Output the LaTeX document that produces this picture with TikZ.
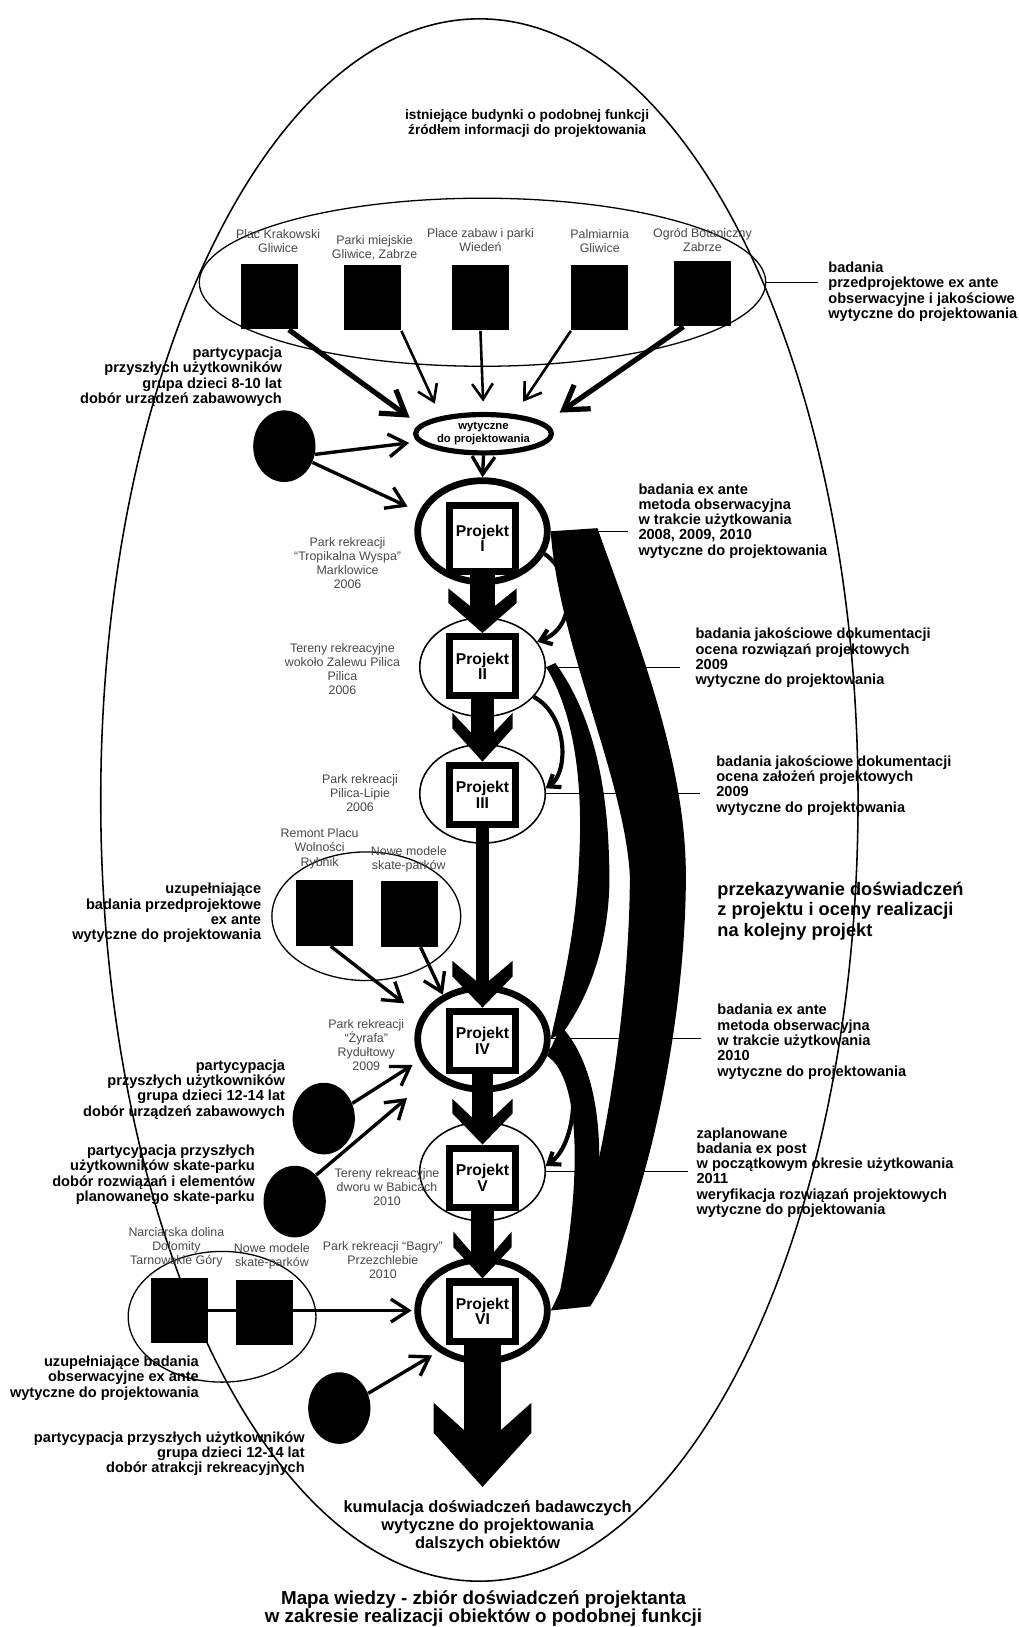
\documentclass[tikz,border=0pt]{standalone}
\usepackage{fontspec}
\setmainfont{Liberation Sans}
\usetikzlibrary{positioning, arrows.meta, shapes.geometric, calc}

\tikzset{
	site/.style={font=\fontsize{6.8}{7.7}\selectfont, text=black!72, align=center, inner sep=0pt},
	note/.style={font=\fontsize{8}{8.4}\selectfont\bfseries, inner sep=0pt},
	notebig/.style={font=\fontsize{10}{11.4}\selectfont\bfseries, inner sep=0pt},
	objbox/.style={rectangle, fill=black, minimum width=1.1cm, minimum height=1.26cm, inner sep=0pt},
	pupil/.style={ellipse, fill=black, minimum width=1.2cm, minimum height=1.38cm, inner sep=0pt},
	grpell/.style={ellipse, draw, line width=0.25mm, inner sep=0pt},
	projbox/.style={rectangle, draw, line width=1.4mm, fill=white, minimum width=1.26cm, minimum height=1.14cm,
		align=center, inner sep=0pt, font=\fontsize{8.6}{8.4}\selectfont\bfseries},
	ringthick/.style={ellipse, draw, line width=1.3mm, minimum width=2.5cm, minimum height=1.95cm, inner sep=0pt},
	ringthin/.style={ellipse, draw, line width=0.3mm, minimum width=2.42cm, minimum height=1.9cm, inner sep=0pt},
	barb/.style={-{Straight Barb[length=3.4mm, width=4.4mm]}, line width=0.65mm},
	thinbarb/.style={-{Straight Barb[length=3mm, width=4mm]}, line width=0.5mm},
	fatbarb/.style={-{Straight Barb[length=4.4mm, width=5.6mm]}, line width=1mm},
	arcarr/.style={-{Straight Barb[length=2mm, width=3mm]}, line width=0.8mm},
	leader/.style={line width=0.2mm}
}

% wide arrow between projects: from, tip, half shaft, half head, head length, side, notch
\newcommand\projarrow[7]{%
	\fill ($(#1.south)+(-#3,0)$) rectangle ($(#2)+(#3,-#5+#7+1)$);
	\fill ($(#2)+(-#4,-#5)$) -- ($(#2)+(-#3,-#5+#7)$) -- ($(#2)+(#3,-#5+#7)$) -- ($(#2)+(#4,-#5)$)
		-- ($(#2)+(#4,-#5+#6)$) -- (#2) -- ($(#2)+(-#4,-#5+#6)$) -- cycle;}

\begin{document}
\begin{tikzpicture}[x=0.02cm, y=-0.02cm]
	\useasboundingbox (0,0) rectangle (982,1568);

	% the whole map
	\node[ellipse, draw, line width=0.3mm, minimum width=14.6cm, minimum height=30.12cm, inner sep=0pt] (mapa) at (462,771) {};
	\node[note, align=center, font=\fontsize{7.5}{8}\selectfont\bfseries] (zrodlo) at (508,119)
		{istniejące budynki o podobnej funkcji\\źródłem informacji do projektowania};

	% existing buildings
	\node[grpell, minimum width=10.92cm, minimum height=3.24cm] (grpA) at (465,272) {};
	\node[objbox] (sqA1) at (260,286) {};
	\node[objbox] (sqA2) at (359,287) {};
	\node[objbox] (sqA3) at (463,287) {};
	\node[objbox] (sqA4) at (578,287) {};
	\node[objbox] (sqA5) at (677,283) {};
	\node[site] (labA1) at (268,232) {Plac Krakowski\\Gliwice};
	\node[site] (labA2) at (361,239) {Parki miejskie\\Gliwice, Zabrze};
	\node[site] (labA3) at (463,231) {Place zabaw i parki\\Wiedeń};
	\node[site] (labA4) at (578,232) {Palmiarnia\\Gliwice};
	\node[site] (labA5) at (677,231) {Ogród Botaniczny\\Zabrze};
	\node[note, align=left, anchor=west] (badA) at (798,281)
		{badania\\przedprojektowe ex ante\\obserwacyjne i jakościowe\\wytyczne do projektowania};

	\node[ellipse, draw, line width=1mm, minimum width=2.62cm, minimum height=0.74cm, inner sep=0pt,
		align=center, font=\fontsize{6.2}{7.1}\selectfont\bfseries] (wyt) at (466,418) {wytyczne\\do projektowania};

	\node[pupil] (circ1) at (274,430) {};
	\node[note, align=right, anchor=east] (partA) at (272,363)
		{partycypacja\\przyszłych użytkowników\\grupa dzieci 8-10 lat\\dobór urządzeń zabawowych};

	% projects
	\node[ringthick] (ring1) at (465,512) {};
	\node[ringthin] (ring2) at (465,643) {};
	\node[ringthin] (ring3) at (465,765) {};
	\node[ringthick] (ring4) at (465,1001) {};
	\node[ringthin] (ring5) at (465,1129) {};
	\node[ringthick] (ring6) at (465,1263) {};
	\node[projbox, minimum height=1.26cm] (box1) at (465,519) {Projekt\\I};
	\node[projbox] (box2) at (465,642) {Projekt\\II};
	\node[projbox] (box3) at (465,766) {Projekt\\III};
	\node[projbox] (box4) at (465,1003) {Projekt\\IV};
	\node[projbox] (box5) at (465,1135) {Projekt\\V};
	\node[projbox] (box6) at (465,1264) {Projekt\\VI};

	\node[site] (labP1) at (335,543) {Park rekreacji\\“Tropikalna Wyspa”\\Marklowice\\2006};
	\node[site] (labP2) at (330,645) {Tereny rekreacyjne\\wokoło Zalewu Pilica\\Pilica\\2006};
	\node[site] (labP3) at (347,764) {Park rekreacji\\Pilica-Lipie\\2006};
	\node[site] (labP4) at (353,1007) {Park rekreacji\\“Żyrafa”\\Rydułtowy\\2009};
	\node[site] (labP5) at (373,1144) {Tereny rekreacyjne\\dworu w Babicach\\2010};
	\node[site] (labP6) at (369,1214) {Park rekreacji “Bagry”\\Przezchlebie\\2010};

	\node[note, align=left, anchor=west] (badI) at (615,502)
		{badania ex ante\\metoda obserwacyjna\\w trakcie użytkowania\\2008, 2009, 2010\\wytyczne do projektowania};
	\node[note, align=left, anchor=west] (badII) at (670,634)
		{badania jakościowe dokumentacji\\ocena rozwiązań projektowych\\2009\\wytyczne do projektowania};
	\node[note, align=left, anchor=west] (badIII) at (690,757)
		{badania jakościowe dokumentacji\\ocena założeń projektowych\\2009\\wytyczne do projektowania};
	\node[notebig, align=left, anchor=west] (przek) at (691,878)
		{przekazywanie doświadczeń\\z projektu i oceny realizacji\\na kolejny projekt};
	\node[note, align=left, anchor=west] (badIV) at (691,1004)
		{badania ex ante\\metoda obserwacyjna\\w trakcie użytkowania\\2010\\wytyczne do projektowania};
	\node[note, align=left, anchor=west] (badV) at (671,1130)
		{zaplanowane\\badania ex post\\w początkowym okresie użytkowania\\2011\\weryfikacja rozwiązań projektowych\\wytyczne do projektowania};

	% skate parks before project IV
	\node[grpell, minimum width=3.64cm, minimum height=2.48cm] (grpB) at (353,883) {};
	\node[objbox] (sqB1) at (313,880) {};
	\node[objbox] (sqB2) at (395,881) {};
	\node[site] (labB1) at (308,818) {Remont Placu\\Wolności\\Rybnik};
	\node[site] (labB2) at (394,828) {Nowe modele\\skate-parków};
	\node[note, align=right, anchor=east] (uzupB) at (252,880)
		{uzupełniające\\badania przedprojektowe\\ex ante\\wytyczne do projektowania};

	\node[pupil] (circ2) at (312,1078) {};
	\node[pupil] (circ3) at (284,1158) {};
	\node[note, align=right, anchor=east] (partB) at (275,1050)
		{partycypacja\\przyszłych użytkowników\\grupa dzieci 12-14 lat\\dobór urządzeń zabawowych};
	\node[note, align=right, anchor=east] (partS) at (246,1132)
		{partycypacja przyszłych\\użytkowników skate-parku\\dobór rozwiązań i elementów\\planowanego skate-parku};

	% ski slope before project VI
	\node[grpell, minimum width=3.62cm, minimum height=2.52cm] (grpC) at (214,1269) {};
	\node[objbox] (sqC1) at (173,1263) {};
	\node[objbox] (sqC2) at (255,1265) {};
	\node[site] (labC1) at (170,1202) {Narciarska dolina\\Dolomity\\Tarnowskie Góry};
	\node[site] (labC2) at (262,1211) {Nowe modele\\skate-parków};
	\node[note, align=right, anchor=east] (uzupC) at (192,1328)
		{uzupełniające badania\\obserwacyjne ex ante\\wytyczne do projektowania};
	\node[pupil] (circ4) at (327,1357) {};
	\node[note, align=right, anchor=east] (partC) at (294,1401)
		{partycypacja przyszłych użytkowników\\grupa dzieci 12-14 lat\\dobór atrakcji rekreacyjnych};

	\node[note, align=center, font=\fontsize{9}{10}\selectfont\bfseries] (kumul) at (470,1471)
		{kumulacja doświadczeń badawczych\\wytyczne do projektowania\\dalszych obiektów};
	\node[note, align=center, font=\fontsize{10.3}{10}\selectfont\bfseries] (tytul) at (466,1550)
		{Mapa wiedzy - zbiór doświadczeń projektanta\\w zakresie realizacji obiektów o podobnej funkcji};

	% experience passed on
	\fill (ring1.east) .. controls (538,620) and (602,750) .. (607,844)
		.. controls (607,980) and (575,1180) .. (ring6.east)
		-- ($(ring6.east)+(38,-4)$) .. controls (620,1180) and (661,990) .. (661,844)
		.. controls (661,734) and (615,619) .. ($(ring1.east)+(45,-3)$) -- cycle;
	\fill (ring2.east) .. controls (555,690) and (562,760) .. (558,830)
		.. controls (555,900) and (540,960) .. (ring4.east)
		-- ($(ring4.east)+(12,-6)$) .. controls (575,950) and (590,890) .. (587,830)
		.. controls (585,740) and (565,680) .. ($(ring2.east)+(9,-4)$) -- cycle;
	\fill (ring4.-15) .. controls (562,1040) and (560,1150) .. ($(ring6.east)+(6,-4)$)
		-- ($(ring6.east)+(28,-4)$) .. controls (585,1150) and (588,1040) .. ($(ring4.east)+(10,-12)$) -- cycle;
	\draw[arcarr] (ring1.-20) .. controls (555,555) and (555,605) .. (ring2.25);
	\draw[arcarr] (ring2.-30) .. controls (548,690) and (548,745) .. (ring3.5);
	\draw[arcarr] (ring4.-10) .. controls (560,1015) and (560,1100) .. (ring5.5);

	% project to project
	\projarrow{box1}{box2.north}{12}{33}{43}{14}{17}
	\projarrow{box2}{box3.north}{11}{29}{47}{15}{19}
	\projarrow{box3}{box4.north}{6.5}{29}{45}{15}{19}
	\projarrow{box4}{box5.north}{10}{29}{44}{14}{18}
	\projarrow{box5}{box6.north}{11.5}{28}{45}{15}{19}
	\coordinate (kum) at (465,1433);
	\projarrow{box6}{kum}{18}{47}{81}{29}{26}

	% inputs
	\draw[fatbarb, shorten >=2.3mm] (sqA1.-60) -- (wyt.172);
	\draw[thinbarb, shorten >=2.7mm] (sqA2.south east) -- (wyt.158);
	\draw[thinbarb, shorten >=2mm] (sqA3.south) -- (wyt.north);
	\draw[thinbarb, shorten >=2.9mm] (sqA4.south west) -- (wyt.32);
	\draw[fatbarb, shorten >=3.5mm] (sqA5.-120) -- (wyt.10);
	\draw[barb, shorten >=1.7mm] (circ1.-15) -- (wyt.187);
	\draw[barb, shorten >=2.4mm] (circ1.-30) -- (ring1.163);
	\draw[barb] (wyt.south) -- (ring1.north);
	\draw[barb, shorten >=4mm] (sqB1.-80) -- (ring4.160);
	\draw[barb] (sqB2.-72) -- (ring4.132);
	\draw[barb, shorten >=1.7mm] (circ2.28) -- (ring4.199);
	\draw[barb, shorten >=6.6mm] (circ3.51) -- (ring4.217);
	\draw[barb, shorten >=0.5mm] (sqC1.east) -- (ring6.west);
	\draw[barb, shorten >=1.4mm] (circ4.27) -- (ring6.223);

	% leaders to the notes
	\draw[leader, shorten >=2mm] (grpA.east) -- (grpA.east -| badA.west);
	\draw[leader, shorten >=2mm] (ring1.east) -- (ring1.east -| badI.west);
	\draw[leader, shorten >=3mm] (ring2.east) -- (ring2.east -| badII.west);
	\draw[leader, shorten >=3mm] (ring3.east) -- (ring3.east -| badIII.west);
	\draw[leader, shorten >=3mm] (ring4.east) -- (ring4.east -| badIV.west);
	\draw[leader, shorten >=1.6mm] (ring5.east) -- (ring5.east -| badV.west);
\end{tikzpicture}
\end{document}
